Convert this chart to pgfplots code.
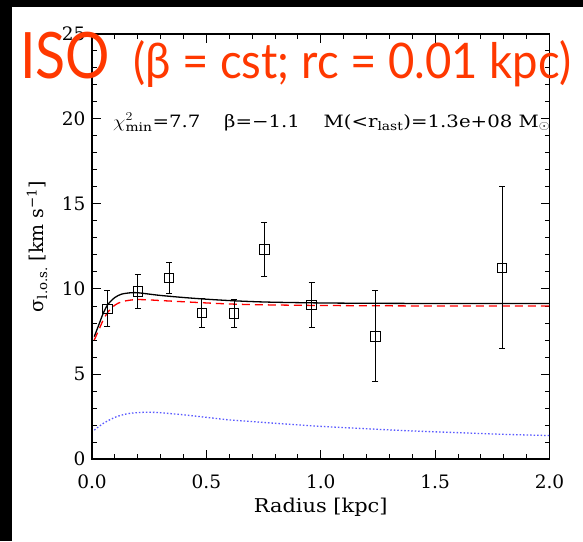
\documentclass[border=0pt]{standalone}
\usepackage{pgfplots}
\pgfplotsset{compat=1.18}
\usepackage{fontspec}
\usepackage{graphicx}
\setmainfont{DejaVu Serif}
\newfontfamily\titlefont{Lato}
\definecolor{titlered}{RGB}{255,56,0}
\definecolor{dotblue}{RGB}{90,90,255}
\begin{document}
\begin{tikzpicture}
\fill[black] (0pt,0pt) rectangle (583pt,541pt);
\fill[white] (12pt,0pt) rectangle (583pt,534pt);
\path[use as bounding box] (0pt,0pt) rectangle (583pt,541pt);
\begin{axis}[
  at={(92pt,82pt)}, anchor=south west,
  scale only axis, width=457.5pt, height=425pt,
  xmin=0, xmax=2, ymin=0, ymax=25,
  xtick={0,0.5,1,1.5,2}, minor x tick num=4,
  ytick={0,5,10,15,20,25}, minor y tick num=4,
  xticklabels={0.0,0.5,1.0,1.5,2.0},
  /pgf/number format/assume math mode=true,
  tick align=inside, major tick length=9pt, minor tick length=5pt,
  axis line style={line width=1.1pt},
  every tick/.style={black, line width=1pt},
  tick label style={font=\fontsize{18.5}{22}\selectfont},
  xticklabel style={yshift=-12pt},
  yticklabel style={xshift=-3pt},
  xlabel={\scalebox{1.1}[1]{Radius [kpc]}},
  ylabel={σ\textsubscript{l.o.s.} [km s\textsuperscript{−1}]},
  label style={font=\fontsize{19}{22}\selectfont},
  xlabel style={at={(axis description cs:0.5,-0.113)}, anchor=center},
  ylabel style={at={(axis description cs:-0.12,0.5)}, anchor=center},
  clip=false,
]
% model total (black)
\addplot[black, line width=1.3pt, smooth] coordinates {
(0.01,7.2) (0.03,7.9) (0.05,8.6) (0.07,9.1) (0.1,9.5) (0.13,9.7) (0.17,9.78) (0.2,9.78)
(0.25,9.7) (0.3,9.62) (0.4,9.5) (0.5,9.4) (0.6,9.32) (0.7,9.26) (0.8,9.22) (1.0,9.18)
(1.2,9.16) (1.5,9.15) (2.0,9.15)};
% red dashed
\addplot[red, line width=1.3pt, dash pattern=on 8pt off 5pt, smooth] coordinates {
(0.01,7.0) (0.03,7.6) (0.05,8.2) (0.07,8.65) (0.1,9.05) (0.13,9.25) (0.17,9.35) (0.2,9.38)
(0.25,9.36) (0.3,9.32) (0.4,9.25) (0.5,9.18) (0.6,9.12) (0.7,9.08) (0.8,9.06) (1.0,9.03)
(1.5,9.0) (2.0,9.0)};
% blue dotted
\addplot[dotblue, line width=1.3pt, dash pattern=on 1.5pt off 2pt, smooth] coordinates {
(0.01,1.7) (0.05,2.1) (0.1,2.45) (0.15,2.65) (0.2,2.73) (0.25,2.75) (0.3,2.72) (0.4,2.6)
(0.5,2.45) (0.6,2.3) (0.7,2.2) (0.8,2.1) (1.0,1.92) (1.2,1.78) (1.4,1.65) (1.6,1.55)
(1.8,1.45) (2.0,1.38)};
% data
\addplot[black, only marks, mark=square, mark size=4.7pt, mark options={line width=0.9pt},
  error bars/.cd, y dir=both, y explicit,
  error bar style={line width=1pt, black},
  error mark options={rotate=90, mark size=3pt, line width=1pt}]
coordinates {
(0.067,8.84) +- (0,1.07)
(0.20,9.85) +- (0,1.0)
(0.337,10.65) +- (0,0.9)
(0.48,8.58) +- (0,0.86)
(0.621,8.56) +- (0,0.8)
(0.753,12.33) +- (0,1.6)
(0.96,9.05) +- (0,1.34)
(1.239,7.22) +- (0,2.68)
(1.793,11.25) +- (0,4.75)
};
\node[anchor=base west, font=\fontsize{17}{20}\selectfont, inner sep=0pt]
  at (rel axis cs:0.046,0.781)
  {\resizebox{437pt}{\height}{$\chi^{2}_{\mathrm{min}}$=7.7\hspace{1.2em}β=−1.1\hspace{1.2em}M(<r\textsubscript{last})=1.3e+08 M$_{\odot}$}};
\end{axis}
\node[anchor=base west, inner sep=0pt, text=titlered, font=\titlefont\fontsize{64}{70}\selectfont] at (20pt,462pt) {\resizebox{90pt}{\height}{ISO}};
\node[anchor=base west, inner sep=0pt, text=titlered, font=\titlefont\fontsize{49}{55}\selectfont] at (133pt,462pt) {\resizebox{438pt}{\height}{(β = cst; rc = 0.01 kpc)}};
\end{tikzpicture}
\end{document}
